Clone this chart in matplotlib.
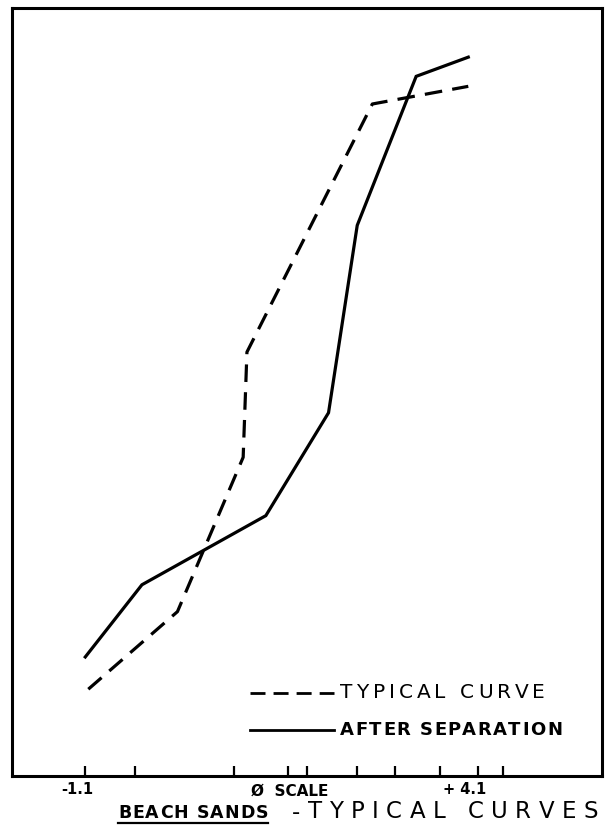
import matplotlib
matplotlib.use("Agg")
import matplotlib.pyplot as plt
from matplotlib.lines import Line2D
from matplotlib.transforms import blended_transform_factory

plt.rcParams['font.family'] = ['DejaVu Sans']

# grain size (phi) against cumulative weight percent
typical_phi = [-1.06, 0.12, 0.99, 1.04, 2.70, 3.97]
typical_pct = [11.3, 21.4, 41.5, 55.2, 87.5, 89.8]

separated_phi = [-1.10, -0.35, 1.29, 2.12, 2.50, 3.28, 3.97]
separated_pct = [15.5, 24.9, 33.9, 47.3, 71.7, 91.1, 93.6]

# sieve positions marked along the bottom
sieve_phi = [-1.10, -0.44, 0.87, 1.59, 1.84, 2.50, 3.00, 3.60, 4.10, 4.43]
end_labels = [("-1.1", -1.20), ("+ 4.1", 3.92)]

W, H = 610, 836
fig = plt.figure(figsize=(W/100, H/100), dpi=100)
ax = fig.add_axes([12/W, 1 - 776/H, 590/W, 768/H])
renderer = fig.canvas.get_renderer()


def text_width(s, **kw):
    t = fig.text(0, 0, s, **kw)
    w = t.get_window_extent(renderer).width
    t.remove()
    return w


def spread_text(x0, x1, y, s, **kw):
    ''' lay the characters of s out one by one so they fill x0..x1 (pixels) '''
    space = text_width("n n", **kw) - text_width("nn", **kw)
    widths = [space if ch == " " else text_width(ch, **kw) for ch in s]
    gap = (x1 - x0 - sum(widths)) / max(len(s) - 1, 1)
    x = x0
    for ch, w in zip(s, widths):
        if ch != " ":
            fig.text(x / W, 1 - y / H, ch, ha="left", va="center", **kw)
        x += w + gap


lw = 2.3
ax.plot(typical_phi, typical_pct, color="black", lw=lw,
        dashes=(5.5, 3.2), solid_capstyle="butt", label="TYPICAL CURVE")
ax.plot(separated_phi, separated_pct, color="black", lw=lw,
        solid_joinstyle="miter", label="AFTER SEPARATION")

ax.set_xlim(-2.07, 5.74)
ax.set_ylim(0, 100)
ax.set_yticks([])
ax.set_xticks(sieve_phi)
ax.set_xticklabels([])
ax.tick_params(axis="x", direction="in", length=7, width=1.6, color="black")
for s in ax.spines.values():
    s.set_linewidth(2.2)

trans = blended_transform_factory(ax.transData, fig.transFigure)
for txt, xpos in end_labels:
    ax.text(xpos, 1 - 789/H, txt, transform=trans, ha="center", va="center",
            fontsize=10.5, fontweight="bold")
ax.text(1.61, 1 - 791/H, "Ø  SCALE", transform=trans, ha="center",
        va="center", fontsize=11, fontweight="bold")

# legend drawn by hand so the keys sit left of the text
leg_y = [10.8, 6.0]
key_x = [-2.07 + (250 - 12)/75.58, -2.07 + (334 - 12)/75.58]
ax.plot(key_x, [leg_y[0]]*2, color="black", lw=2.0, dashes=(5.4, 2.9),
        solid_capstyle="butt", dash_capstyle="butt")
ax.plot(key_x, [leg_y[1]]*2, color="black", lw=2.0)
spread_text(340, 545, 693, "TYPICAL CURVE", fontsize=14.5)
spread_text(340, 562, 730, "AFTER SEPARATION", fontsize=13, fontweight="bold")

# caption with the first words underlined
spread_text(118, 268, 813, "BEACH SANDS", fontsize=12.5, fontweight="bold")
fig.add_artist(Line2D([118/W, 268/W], [1 - 823/H, 1 - 823/H],
                      color="black", lw=1.6, transform=fig.transFigure))
spread_text(292, 598, 812, "-TYPICAL CURVES", fontsize=16.5)

fig.savefig("out.png", dpi=100)
